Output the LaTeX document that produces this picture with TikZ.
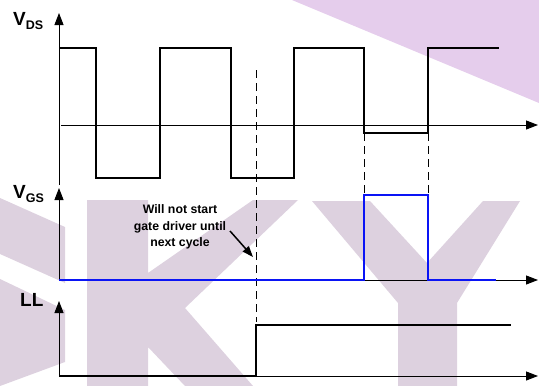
\documentclass[tikz,border=0pt]{standalone}
\usepackage{fontspec}
\setmainfont{Liberation Sans}
\usetikzlibrary{arrows.meta}
\definecolor{wmgrey}{RGB}{221,209,223}
\definecolor{wmpurple}{RGB}{229,205,236}
\definecolor{sigblue}{RGB}{10,20,245}
\begin{document}
\begin{tikzpicture}[x=1pt,y=-1pt,
  axis/.style={line width=1pt,-{Triangle[length=12pt,width=9pt]}},
  wave/.style={line width=2pt,line join=miter},
  guide/.style={line width=1pt,dash pattern=on 8pt off 5pt},
  lbl/.style={anchor=base west,inner sep=0pt,font=\fontsize{19}{19}\selectfont\bfseries},
  note/.style={align=center,inner sep=0pt,font=\fontsize{12.3}{16.5}\selectfont\bfseries}]
\useasboundingbox (0,0) rectangle (539,386);
% watermark
\fill[wmpurple] (292,0) -- (539,0) -- (539,103) -- cycle;
\fill[wmgrey] (0,198) -- (65,227) -- (65,283) -- (0,254) -- cycle;
\fill[wmgrey] (0,279) -- (65,310) -- (65,362) -- (0,386) -- cycle;
\fill[wmgrey] (87,200) -- (148,200) -- (148,273) -- (253,200) -- (298,200) -- (185,308)
  -- (253,386) -- (185,386) -- (148,347) -- (148,386) -- (87,386) -- cycle;
\fill[wmgrey] (312,201) -- (370,201) -- (427,263) -- (483,201) -- (520,201) -- (457,303)
  -- (457,386) -- (398,386) -- (398,303) -- cycle;
% axes
\coordinate (dsB) at (59,185); \coordinate (dsT) at (59,13);
\coordinate (dsL) at (61,125); \coordinate (dsR) at (538,125);
\coordinate (gsB) at (59,280); \coordinate (gsT) at (59,188);
\coordinate (gsR) at (538,280);
\coordinate (llB) at (59,376); \coordinate (llT) at (59,301);
\coordinate (llR) at (538,376);
\draw[axis] (dsB) -- (dsT);
\draw[axis] (dsL) -- (dsR);
\draw[axis] (gsB) -- (gsT);
\draw[axis] (gsB) -- (gsR);
\draw[axis] (llB) -- (llT);
\draw[axis] (llB) -- (llR);
% guide lines
\coordinate (g1T) at (256,70); \coordinate (g1B) at (256,322);
\coordinate (g2T) at (364,133); \coordinate (g2B) at (364,195);
\coordinate (g3T) at (428,133); \coordinate (g3B) at (428,195);
\draw[guide] (g1T) -- (g1B);
\draw[guide] (g2T) -- (g2B);
\draw[guide] (g3T) -- (g3B);
% waveforms
\draw[wave] (59,48) -- (96,48) -- (96,178) -- (160,178) -- (160,48) -- (231,48) -- (231,178)
  -- (294,178) -- (294,48) -- (364,48) -- (364,133) -- (428,133) -- (428,48) -- (499,48);
\draw[wave,sigblue,line width=2.4pt] (59,280) -- (364,280) -- (364,195) -- (428,195) -- (428,280) -- (496,280);
\draw[wave] (59,376) -- (256,376) -- (256,325) -- (511,325);
% labels
\node[lbl] (vds) at (13,25) {V\raisebox{-4pt}{\fontsize{12.5}{12.5}\selectfont DS}};
\node[lbl] (vgs) at (13,198) {V\raisebox{-4pt}{\fontsize{12.5}{12.5}\selectfont GS}};
\node[lbl] (ll) at (20,306) {LL};
\node[note] (nt) at (180,227) {Will not start\\gate driver until\\next cycle};
\coordinate (ntA) at (230,231);
\coordinate (ntB) at (253,257);
\draw[line width=1.5pt,-{Triangle[length=11pt,width=8pt]}] (ntA) -- (ntB);
\end{tikzpicture}
\end{document}
